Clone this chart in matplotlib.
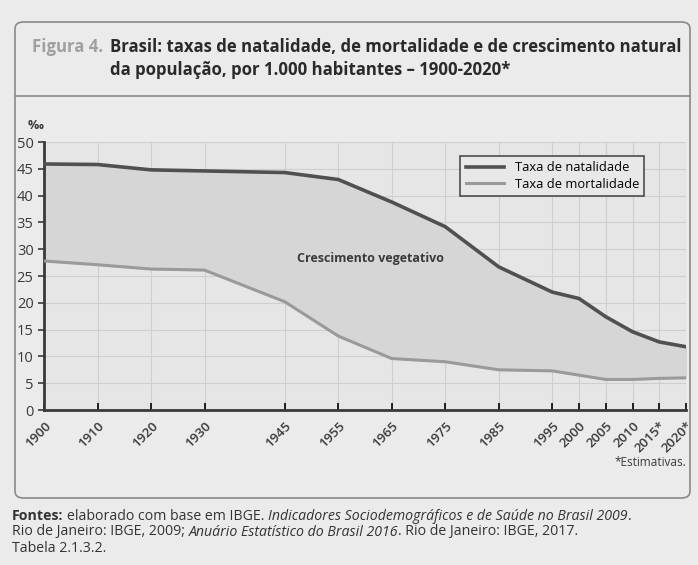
import numpy as np
import matplotlib.pyplot as plt
from matplotlib.patches import FancyBboxPatch
from matplotlib.lines import Line2D

# data (per 1.000 habitantes)
anos = [1900, 1910, 1920, 1930, 1945, 1955, 1965, 1975, 1985, 1995, 2000, 2005, 2010, 2015, 2020]
natalidade = [45.9, 45.8, 44.8, 44.6, 44.3, 43.0, 38.8, 34.2, 26.7, 22.0, 20.8, 17.4, 14.6, 12.7, 11.8]
mortalidade = [27.8, 27.1, 26.3, 26.1, 20.2, 13.8, 9.6, 9.0, 7.5, 7.3, 6.5, 5.7, 5.7, 5.9, 6.0]
rotulos = ["1900", "1910", "1920", "1930", "1945", "1955", "1965", "1975", "1985",
           "1995", "2000", "2005", "2010", "2015*", "2020*"]
series = ["Taxa de natalidade", "Taxa de mortalidade"]

W, H = 698, 565
plt.rcParams['font.family'] = ['Open Sans', 'DejaVu Sans']
fig = plt.figure(figsize=(W / 100, H / 100), dpi=100)
fig.patch.set_facecolor('#ebebeb')

def fx(px):
    return px / W

def fy(py):
    return 1 - py / H

# frame of the figure box
frame = FancyBboxPatch((fx(15), fy(498)), fx(690) - fx(15), fy(22) - fy(498),
                       boxstyle="round,pad=0,rounding_size=0.012", transform=fig.transFigure,
                       fc='none', ec='#8a8a8a', lw=1.2)
fig.patches.append(frame)
fig.add_artist(Line2D([fx(15), fx(690)], [fy(96), fy(96)], color='#8a8a8a', lw=1.2))

# title
fig.text(fx(32), fy(47), "Figura 4.", fontsize=12.1, color='#a0a0a0', va='center', fontweight='bold')
fig.text(fx(110), fy(47), "Brasil: taxas de natalidade, de mortalidade e de crescimento natural",
         fontsize=12.1, color='#2a2a2a', va='center', fontweight='bold')
fig.text(fx(110), fy(70), "da população, por 1.000 habitantes – 1900-2020*",
         fontsize=12.1, color='#2a2a2a', va='center', fontweight='bold')

ax = fig.add_axes([fx(44), fy(410), fx(686) - fx(44), fy(142) - fy(410)])
ax.set_facecolor('#e6e6e6')
ax.fill_between(anos, mortalidade, natalidade, color='#d6d6d6', zorder=1)
ax.plot(anos, natalidade, color='#505050', lw=2.6, label=series[0], zorder=3)
ax.plot(anos, mortalidade, color='#9a9a9a', lw=2.2, label=series[1], zorder=3)

ax.set_xlim(1900, 2020)
ax.set_ylim(0, 50)
ax.set_xticks(anos)
ax.set_xticklabels(rotulos, rotation=45, ha='right', rotation_mode='anchor', fontsize=9.5,
                   color='#3a3a3a', fontweight='semibold')
ax.set_yticks(np.arange(0, 51, 5))
ax.tick_params(axis='y', labelsize=10.5, colors='#3a3a3a', length=4, width=1.2)
ax.tick_params(axis='x', length=5, width=1.2, direction='in', pad=7)
ax.grid(True, color='#cfcfcf', lw=0.8, zorder=0)
ax.set_axisbelow(True)
for s in ['top', 'right']:
    ax.spines[s].set_visible(False)
for s in ['left', 'bottom']:
    ax.spines[s].set_color('#3a3a3a')
    ax.spines[s].set_linewidth(2)

ax.text(1947.2, 28.2, "Crescimento vegetativo", fontsize=9, fontweight='bold', color='#3a3a3a', va='center')
ax.text(0.0, 1.06, "‰", transform=ax.transAxes, fontsize=9, fontweight='bold', color='#3a3a3a',
        ha='right', va='center')

leg = ax.legend(loc='upper right', bbox_to_anchor=(0.945, 0.972), fontsize=9.3, frameon=True,
                fancybox=False, handlelength=3.0, borderpad=0.4, labelspacing=0.3)
leg.get_frame().set_edgecolor('#4d4d4d')
leg.get_frame().set_facecolor('#e8e8e8')
leg.get_frame().set_linewidth(1.2)
leg.get_frame().set_alpha(1)

fig.text(fx(686), fy(462), "*Estimativas.", fontsize=8.5, color='#3a3a3a', ha='right', va='center')

# footer with mixed styles
renderer = fig.canvas.get_renderer()

def linha(py, partes):
    x = fx(12)
    for txt, peso, estilo, gap in partes:
        t = fig.text(x, fy(py), txt, fontsize=10.2, color='#333333', fontweight=peso,
                     fontstyle=estilo, va='center')
        bb = t.get_window_extent(renderer=renderer)
        x += (bb.width + gap) / W

linha(516, [("Fontes:", 'bold', 'normal', 4), ("elaborado com base em IBGE. ", 'normal', 'normal', 0),
            ("Indicadores Sociodemográficos e de Saúde no Brasil 2009", 'normal', 'italic', 0),
            (".", 'normal', 'normal', 0)])
linha(532, [("Rio de Janeiro: IBGE, 2009; ", 'normal', 'normal', 0),
            ("Anuário Estatístico do Brasil 2016", 'normal', 'italic', 0),
            (". Rio de Janeiro: IBGE, 2017.", 'normal', 'normal', 0)])
linha(548, [("Tabela 2.1.3.2.", 'normal', 'normal', 0)])

fig.savefig("out.png", dpi=100, facecolor=fig.get_facecolor())
